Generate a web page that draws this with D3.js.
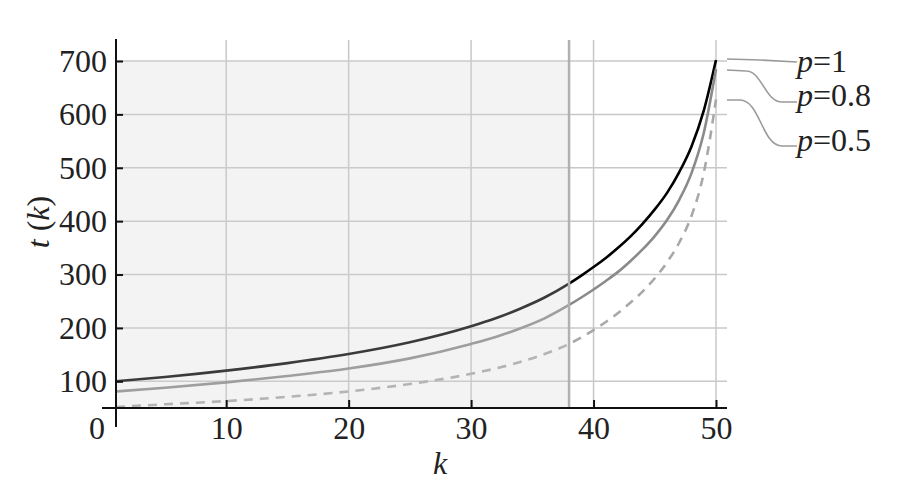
<!DOCTYPE html>
<html>
<head>
<meta charset="utf-8">
<script src="https://cdn.jsdelivr.net/npm/d3@7"></script>
<style>
  body { margin: 0; background: #fff; }
  svg { display: block; }
  text { font-family: "Liberation Serif", "DejaVu Serif", serif; fill: #222; }
</style>
</head>
<body>
<svg id="chart" width="901" height="487"></svg>
<script>
var kValues = [1, 5, 10, 15, 20, 25, 30, 32, 34, 36, 38, 39, 40, 41, 42, 43, 44, 45, 46, 47, 48, 49, 50];
// t(k) for each p
var tP1  = [100, 108, 120, 134, 151, 173, 203, 218, 236, 257, 283, 298, 314, 331, 350, 371, 395, 422, 453, 492, 540, 607, 702];
var tP08 = [81, 88, 98, 110, 124, 143, 170, 183, 199, 218, 243, 257, 272, 288, 305, 325, 347, 372, 402, 440, 490, 565, 685];
var tP05 = [52, 57, 63, 71, 81, 95, 114, 124, 136, 151, 170, 182, 196, 211, 228, 247, 268, 293, 323, 360, 410, 490, 628];
var seriesNames = ["1", "0.8", "0.5"];
var yTicks = [100, 200, 300, 400, 500, 600, 700];
var xTicks = [10, 20, 30, 40, 50];
var shadeEnd = 38;

var svg = d3.select("#chart");

var x = d3.scaleLinear().domain([1, 50]).range([116, 716]);
var y = d3.scaleLinear().domain([50, 700]).range([408, 61]);

// grid
svg.append("g").selectAll("line.h")
  .data(yTicks).enter().append("line")
  .attr("x1", x(1)).attr("x2", 727)
  .attr("y1", function(d) { return y(d); }).attr("y2", function(d) { return y(d); })
  .attr("stroke", "#c8c8c8").attr("stroke-width", 1.5);

svg.append("g").selectAll("line.v")
  .data(xTicks).enter().append("line")
  .attr("x1", function(d) { return x(d); }).attr("x2", function(d) { return x(d); })
  .attr("y1", 40).attr("y2", y(50))
  .attr("stroke", "#c8c8c8").attr("stroke-width", 1.5);

// curves
var series = [
  {name: seriesNames[0], vals: tP1,  color: "#000", dash: null},
  {name: seriesNames[1], vals: tP08, color: "#8a8a8a", dash: null},
  {name: seriesNames[2], vals: tP05, color: "#a8a8a8", dash: "9,7"}
];

var line = d3.line()
  .x(function(d) { return x(d[0]); })
  .y(function(d) { return y(d[1]); })
  .curve(d3.curveMonotoneX);

svg.append("g").selectAll("path")
  .data(series).enter().append("path")
  .attr("d", function(s) { return line(kValues.map(function(k, i) { return [k, s.vals[i]]; })); })
  .attr("fill", "none")
  .attr("stroke", function(s) { return s.color; })
  .attr("stroke-width", 2.6)
  .attr("stroke-dasharray", function(s) { return s.dash; });

// shaded region (k <= 38), laid over the lines so they look lighter
svg.append("rect")
  .attr("x", x(1)).attr("y", y(700))
  .attr("width", x(shadeEnd) - x(1)).attr("height", y(50) - y(700))
  .attr("fill", "#d4d4d4").attr("fill-opacity", 0.28);

svg.append("line")
  .attr("x1", x(shadeEnd)).attr("x2", x(shadeEnd))
  .attr("y1", 40).attr("y2", y(50))
  .attr("stroke", "#b0b0b0").attr("stroke-width", 2.5);

// axes
var yAxis = d3.axisLeft(y).tickValues(yTicks).tickSizeInner(-7).tickSizeOuter(0).tickPadding(9);
var gy = svg.append("g").attr("transform", "translate(" + x(1) + ",0)").call(yAxis);
var xAxis = d3.axisBottom(x).tickValues(xTicks).tickSizeInner(-8).tickSizeOuter(0).tickPadding(8);
var gx = svg.append("g").attr("transform", "translate(0," + y(50) + ")").call(xAxis);

[gx, gy].forEach(function(g) {
  g.select(".domain").remove();
  g.selectAll(".tick line").attr("stroke", "#111").attr("stroke-width", 2);
  g.selectAll(".tick text")
    .style("font-family", "'Liberation Serif', serif")
    .style("font-size", "32px")
    .attr("fill", "#222");
});

svg.append("line").attr("x1", x(1)).attr("x2", x(1)).attr("y1", 39).attr("y2", 427)
  .attr("stroke", "#111").attr("stroke-width", 2);
svg.append("line").attr("x1", 102).attr("x2", 727).attr("y1", y(50)).attr("y2", y(50))
  .attr("stroke", "#111").attr("stroke-width", 2);

// origin label
svg.append("text").attr("x", 97).attr("y", 439).attr("text-anchor", "middle")
  .style("font-size", "32px").text("0");

// axis titles
svg.append("text").attr("x", 440).attr("y", 474).attr("text-anchor", "middle")
  .style("font-size", "32px").style("font-style", "italic").text("k");

var yt = svg.append("text")
  .attr("transform", "translate(49,222) rotate(-90)")
  .attr("text-anchor", "middle")
  .style("font-size", "32px");
yt.append("tspan").style("font-style", "italic").text("t");
yt.append("tspan").text(" (");
yt.append("tspan").style("font-style", "italic").text("k");
yt.append("tspan").text(")");

// leader lines and labels
var leaders = [
  "M727,59 L760,60 L797,62",
  "M727,70 L746,71 C762,71 765,102 782,102 L797,102",
  "M727,100 L740,100 C760,100 762,146 782,146 L797,146"
];
var labelY = [72, 106, 151];

svg.append("g").selectAll("path")
  .data(leaders).enter().append("path")
  .attr("d", function(d) { return d; })
  .attr("fill", "none").attr("stroke", "#9a9a9a").attr("stroke-width", 1.6);

series.forEach(function(s, i) {
  var t = svg.append("text").attr("x", 797).attr("y", labelY[i]).style("font-size", "32px");
  t.append("tspan").style("font-style", "italic").text("p");
  t.append("tspan").text("=" + s.name);
});
</script>
</body>
</html>
